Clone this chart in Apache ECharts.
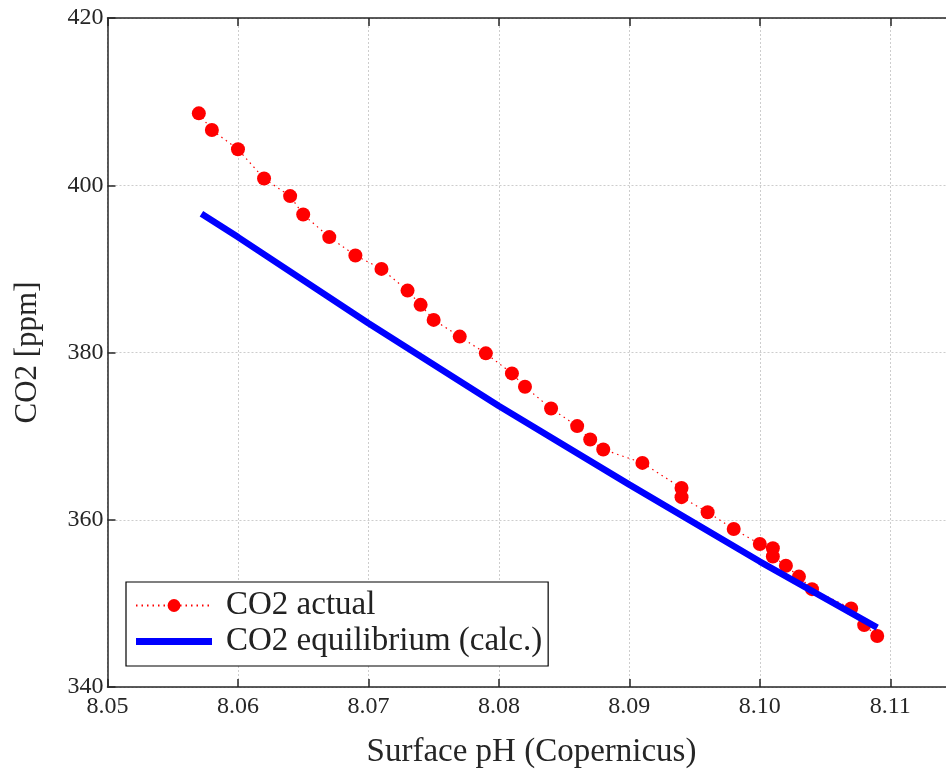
<!DOCTYPE html>
<html>
<head>
<meta charset="utf-8">
<script src="https://cdn.jsdelivr.net/npm/echarts@6/dist/echarts.min.js"></script>
<style>html,body{margin:0;padding:0;background:#fff}#c{width:946px;height:771px}</style>
</head>
<body>
<div id="c"></div>
<script>
const actualPH = [8.057, 8.058, 8.060, 8.062, 8.064, 8.065, 8.067, 8.069, 8.071, 8.073, 8.074, 8.075, 8.077, 8.079, 8.081, 8.082, 8.084, 8.086, 8.087, 8.088, 8.091, 8.094, 8.094, 8.096, 8.098, 8.100, 8.101, 8.101, 8.102, 8.103, 8.104, 8.107, 8.108, 8.109];
const actualCO2 = [408.6, 406.6, 404.3, 400.8, 398.7, 396.5, 393.8, 391.6, 390.0, 387.4, 385.7, 383.9, 381.9, 379.9, 377.5, 375.9, 373.3, 371.2, 369.6, 368.4, 366.8, 363.8, 362.7, 360.9, 358.9, 357.1, 356.6, 355.6, 354.5, 353.2, 351.7, 349.4, 347.4, 346.1];
const eqPH = [8.0572, 8.060, 8.070, 8.080, 8.090, 8.100, 8.109];
const eqCO2 = [396.6, 393.8, 383.5, 373.6, 364.2, 355.0, 347.1];
const xTicks = [8.05, 8.06, 8.07, 8.08, 8.09, 8.10, 8.11];
const yTicks = [340, 360, 380, 400, 420];

const FONT = '"Liberation Serif", "DejaVu Serif", serif';
const AX = '#262626';
const chart = echarts.init(document.getElementById('c'), null, {renderer: 'canvas'});
const gridLine = {show: true, lineStyle: {color: '#cdcdcd', type: [2, 2], width: 1}};
chart.setOption({
  animation: false,
  backgroundColor: '#fff',
  grid: {left: 107.5, top: 18, height: 669, width: 848, containLabel: false, outerBoundsMode: 'none'},
  legend: {
    orient: 'vertical', left: 126, top: 582,
    backgroundColor: '#fff', borderColor: '#000', borderWidth: 1.2,
    padding: [7, 6, 8, 9], itemGap: 3, itemWidth: 76, itemHeight: 16,
    textStyle: {fontFamily: FONT, fontSize: 33, color: '#222', lineHeight: 33, padding: [0, 0, 0, 9]},
    data: [
      {name: 'CO2 actual'},
      {name: 'CO2 equilibrium (calc.)', icon: 'path://M0,0 M0,4.5 L76,4.5 L76,11.5 L0,11.5 Z M76,16', itemStyle: {color: '#0000ff'}}
    ]
  },
  xAxis: [{
    type: 'value', min: 8.05, max: 8.115, interval: 0.01,
    name: 'Surface pH (Copernicus)', nameLocation: 'middle', nameGap: 49,
    nameTextStyle: {fontFamily: FONT, fontSize: 33, color: '#262626'},
    axisLine: {show: true, onZero: false, lineStyle: {color: AX, width: 1.5}},
    axisTick: {show: true, inside: true, length: 8, lineStyle: {color: AX, width: 1.5}},
    axisLabel: {fontFamily: FONT, fontSize: 24, color: '#262626', margin: 8,
      formatter: v => xTicks.some(t => Math.abs(t - v) < 1e-6) ? v.toFixed(2) : ''},
    splitLine: gridLine
  }, {
    type: 'value', position: 'top', min: 8.05, max: 8.115, interval: 0.01,
    axisLine: {show: true, onZero: false, lineStyle: {color: AX, width: 1.5}},
    axisTick: {show: true, inside: true, length: 8, lineStyle: {color: AX, width: 1.5}},
    axisLabel: {show: false}, splitLine: {show: false}
  }],
  yAxis: [{
    type: 'value', min: 340, max: 420, interval: 20,
    name: 'CO2 [ppm]', nameLocation: 'middle', nameGap: 64, nameRotate: 90,
    nameTextStyle: {fontFamily: FONT, fontSize: 31, color: '#262626'},
    axisLine: {show: true, onZero: false, lineStyle: {color: AX, width: 1.5}},
    axisTick: {show: true, inside: true, length: 8, lineStyle: {color: AX, width: 1.5}},
    axisLabel: {fontFamily: FONT, fontSize: 24, color: '#262626', margin: 4,
      formatter: v => yTicks.includes(v) ? String(v) : ''},
    splitLine: gridLine
  }],
  series: [{
    name: 'CO2 actual', type: 'line', xAxisIndex: 0,
    data: actualPH.map((x, i) => [x, actualCO2[i]]),
    symbol: 'circle', symbolSize: 14, showSymbol: true,
    itemStyle: {color: '#ff0000'},
    lineStyle: {color: '#ff0000', width: 1.2, type: [1.5, 4]},
    z: 2
  }, {
    name: 'CO2 equilibrium (calc.)', type: 'line', xAxisIndex: 0,
    data: eqPH.map((x, i) => [x, eqCO2[i]]),
    symbol: 'none', showSymbol: false,
    itemStyle: {color: '#0000ff'},
    lineStyle: {color: '#0000ff', width: 6.5, cap: 'butt'},
    z: 3
  }]
});
</script>
</body>
</html>
